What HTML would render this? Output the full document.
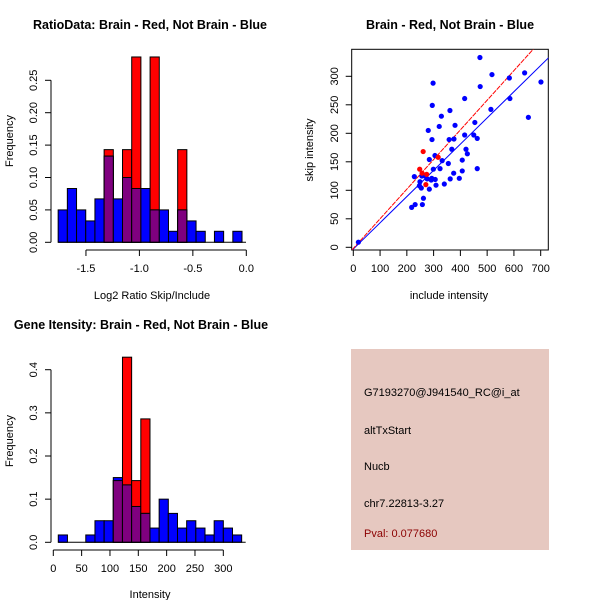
<!DOCTYPE html>
<html><head><meta charset="utf-8"><style>
body{margin:0;background:#fff;}
svg{display:block;font-family:"Liberation Sans",sans-serif;}
</style></head><body>
<svg id="s" width="600" height="600">
<rect x="351" y="349" width="198" height="201" fill="#e6c8c0"/>
<g font-size="11" fill="#000">
<text x="364" y="396">G7193270@J941540_RC@i_at</text>
<text x="364" y="434">altTxStart</text>
<text x="364" y="470">Nucb</text>
<text x="364" y="507">chr7.22813-3.27</text>
<text x="364" y="537" fill="#8b0000">Pval: 0.077680</text>
</g>
</svg>
<script>
// Ratio histogram data
const ratioBlue=[0.05,0.083,0.05,0.033,0.067,0.133,0.067,0.10,0.083,0.083,0.05,0.05,0.017,0.05,0.033,0.017,0,0.017,0,0.017];
const ratioRed=[0,0,0,0,0,0.143,0,0.143,0.286,0,0.286,0,0,0.143,0,0,0,0,0,0];
const ratioXTicks=[-1.5,-1.0,-0.5,0.0];
const ratioYTicks=[0,0.05,0.10,0.15,0.20,0.25];
// Intensity histogram data
const intBlue=[0.017,0,0,0.017,0.05,0.05,0.15,0.133,0.083,0.067,0.033,0.10,0.067,0.033,0.05,0.033,0.017,0.05,0.033,0.017];
const intRed=[0,0,0,0,0,0,0.143,0.429,0.143,0.286,0,0,0,0,0,0,0,0,0,0];
const intXTicks=[0,50,100,150,200,250,300];
const intYTicks=[0,0.1,0.2,0.3,0.4];
// Scatter data
const blueX=[19,473,518,640,701,583,474,298,295,416,585,514,654,361,329,321,380,280,454,294,358,376,416,450,463,368,421,426,305,284,299,332,355,324,407,407,375,463,396,362,340,309,306,291,276,268,228,256,249,247,254,284,262,258,231,218,293];
const blueY=[9,333,303,306,290,297,282,288,249,261,261,242,228,240,230,212,214,205,219,189,189,190,197,197,191,172,172,164,161,154,137,152,147,138,153,134,130,138,121,120,111,109,119,118,120,125,124,125,115,108,104,102,86,75,75,70,121];
const redX=[248,261,317,271,274,257];
const redY=[137,168,158,110,128,130];
const fitRed=[-2,0.52];
const fitBlue=[-3,0.46];
const scXTicks=[0,100,200,300,400,500,600,700];
const scYTicks=[0,50,100,150,200,250,300];

const S=document.getElementById('s');const NS='http://www.w3.org/2000/svg';
function el(t,a,p){const e=document.createElementNS(NS,t);for(const k in a)e.setAttribute(k,a[k]);(p||S).appendChild(e);return e;}
function txt(x,y,s,a,p){const e=el('text',Object.assign({x:x,y:y,'text-anchor':'middle','font-size':11},a||{}),p);e.textContent=s;return e;}

function hist(o){
  const g=el('g',{});
  
  
  const X=v=>o.x0+(v-o.xd0)*o.xs, Y=v=>o.y0-v*o.ys;
  for(let i=0;i<o.blue.length;i++){
    const a=X(o.start+i*o.w),b=X(o.start+(i+1)*o.w);
    const bv=o.blue[i],rv=o.red[i];
    if(rv>0){const r=el('rect',{x:a,y:Y(rv),width:b-a,height:Y(0)-Y(rv),fill:'#ff0000',stroke:'#000','stroke-width':1},g);
      }
    if(bv>0){const r=el('rect',{x:a,y:Y(bv),width:b-a,height:Y(0)-Y(bv),fill:'#0000ff',stroke:'#000','stroke-width':1},g);
      
      if(rv>0){const m=Math.min(bv,rv);const p=el('rect',{x:a,y:Y(m),width:b-a,height:Y(0)-Y(m),fill:'#7f007f',stroke:'#000','stroke-width':1},g);
        }}
  }
  const xa=el('g',{},g);
  el('line',{x1:X(o.xt[0]),x2:X(o.xt[o.xt.length-1]),y1:o.xay,y2:o.xay,stroke:'#000'},xa);
  o.xt.forEach(t=>{el('line',{x1:X(t),x2:X(t),y1:o.xay,y2:o.xay+6,stroke:'#000'},xa);txt(X(t),o.xay+22,o.fmtx(t),{},xa);});
  const ya=el('g',{},g);
  el('line',{x1:o.yax,x2:o.yax,y1:Y(o.yt[0]),y2:Y(o.yt[o.yt.length-1]),stroke:'#000'},ya);
  o.yt.forEach(t=>{el('line',{x1:o.yax,x2:o.yax-6,y1:Y(t),y2:Y(t),stroke:'#000'},ya);
    txt(0,0,o.fmty(t),{transform:`translate(${o.yax-14},${Y(t)}) rotate(-90)`},ya);});
  el('line',{x1:X(o.start),x2:X(o.start+o.blue.length*o.w)+4,y1:Y(0),y2:Y(0),stroke:'#000'},g);
}
function bind(e,n){return e;}

bind(txt(150,29,'RatioData: Brain - Red, Not Brain - Blue',{'font-weight':'bold','font-size':12.5}),'ratio-title');
bind(txt(152,299,'Log2 Ratio Skip/Include',{'font-size':11}),'ratio-x-title');
bind(txt(0,0,'Frequency',{transform:'translate(13,141) rotate(-90)','font-size':11}),'ratio-y-title');
bind(txt(450,29,'Brain - Red, Not Brain - Blue',{'font-weight':'bold','font-size':12.5}),'scatter-title');
bind(txt(449,299,'include intensity',{'font-size':11}),'scatter-x-title');
bind(txt(0,0,'skip intensity',{transform:'translate(313,150) rotate(-90)','font-size':11}),'scatter-y-title');
bind(txt(141,329,'Gene Itensity: Brain - Red, Not Brain - Blue',{'font-weight':'bold','font-size':12.5}),'intensity-title');
bind(txt(150,598,'Intensity',{'font-size':11}),'intensity-x-title');
bind(txt(0,0,'Frequency',{transform:'translate(13,441) rotate(-90)','font-size':11}),'intensity-y-title');

hist({name:'ratio-histogram',blue:ratioBlue,red:ratioRed,start:-1.76,w:0.086,x0:246.3,xd0:0,xs:106.9,y0:242.3,ys:648,
  xt:ratioXTicks,yt:ratioYTicks,xay:250,yax:51,fmtx:t=>t.toFixed(1),fmty:t=>t.toFixed(2)});
hist({name:'intensity-histogram',blue:intBlue,red:intRed,start:8.8,w:16.18,x0:53.3,xd0:0,xs:0.5667,y0:542.3,ys:431.5,
  xt:intXTicks,yt:intYTicks,xay:550,yax:51,fmtx:t=>String(t),fmty:t=>t.toFixed(1)});

const sc=bind(el('g',{}),'scatter-plot');
const SX=v=>353.3+v*0.2677, SY=v=>247.3-v*0.57;
el('clipPath',{id:'cp'},sc);
el('rect',{x:351.7,y:49.3,width:196.6,height:200.7},S.querySelector('#cp'));
const box=el('rect',{x:351.7,y:49.3,width:196.6,height:200.7,fill:'none',stroke:'#000'},sc);
bind(box,'plot-frame');
const sxa=bind(el('g',{},sc),'x-axis');
scXTicks.forEach(t=>{el('line',{x1:SX(t),x2:SX(t),y1:250,y2:256,stroke:'#000'},sxa);txt(SX(t),272,String(t),{},sxa);});
const sya=bind(el('g',{},sc),'y-axis');
scYTicks.forEach(t=>{el('line',{x1:351.7,x2:345.7,y1:SY(t),y2:SY(t),stroke:'#000'},sya);txt(0,0,String(t),{transform:`translate(338,${SY(t)}) rotate(-90)`},sya);});
const lines=el('g',{'clip-path':'url(#cp)'},sc);
const bl=el('line',{x1:SX(-20),y1:SY(fitBlue[0]+fitBlue[1]*-20),x2:SX(800),y2:SY(fitBlue[0]+fitBlue[1]*800),stroke:'#0000ff'},lines);
bind(bl,'blue-fit-line');
const rl=el('line',{x1:SX(-20),y1:SY(fitRed[0]+fitRed[1]*-20),x2:SX(800),y2:SY(fitRed[0]+fitRed[1]*800),stroke:'#ff0000','stroke-dasharray':'5,1'},lines);
bind(rl,'red-fit-line');
for(let i=0;i<blueX.length;i++){const c=el('circle',{cx:SX(blueX[i]),cy:SY(blueY[i]),r:2.6,fill:'#0000ff'},sc);
  }
for(let i=0;i<redX.length;i++){const c=el('circle',{cx:SX(redX[i]),cy:SY(redY[i]),r:2.6,fill:'#ff0000'},sc);
  }
</script>
</body></html>
